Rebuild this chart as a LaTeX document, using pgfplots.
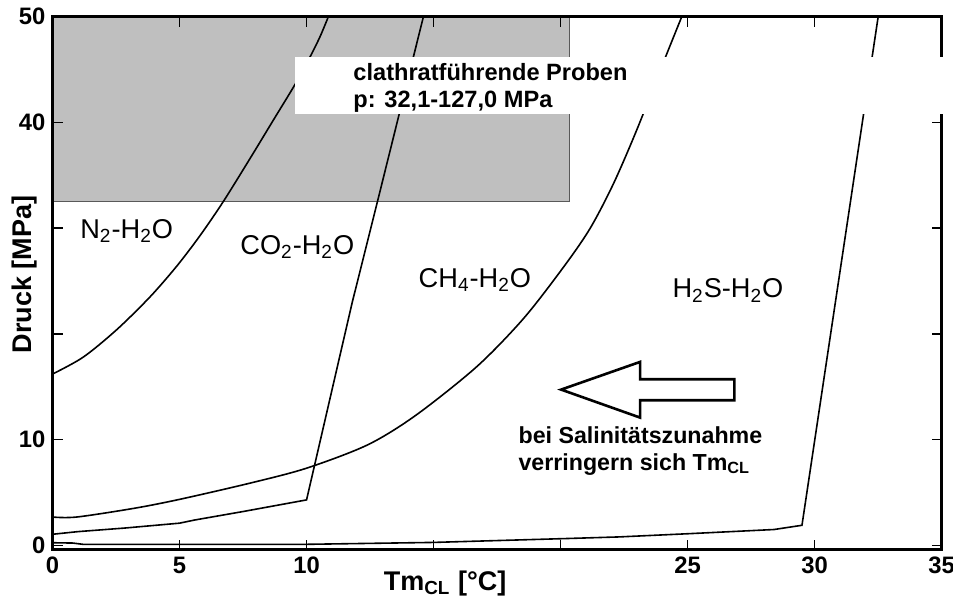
\documentclass[border=0pt]{standalone}
\usepackage{fontspec}
\setmainfont{Liberation Sans}
\usepackage{pgfplots}
\pgfplotsset{compat=1.18}
\begin{document}
\begin{tikzpicture}
\useasboundingbox (-26.25pt,-23.25pt) rectangle (450.25pt,274.8pt);
\begin{axis}[
  scale only axis,
  width=444.6pt, height=266.5pt,
  at={(0,0)}, anchor=south west,
  xmin=0, xmax=35, ymin=-0.4, ymax=50,
  xtick={0,5,...,35}, xticklabels={0,5,10,,,25,30,35},
  ytick={0,10,...,50}, yticklabels={0,10,,,40,50},
  /pgf/number format/assume math mode=true,
  axis on top,
  clip=false,
  axis line style={line width=1.6pt},
  major tick length=5pt,
  every tick/.style={black, line width=0.8pt},
  tick label style={font=\bfseries\fontsize{11.9}{13}\selectfont},
  xlabel={\textbf{Tm\textsubscript{CL} [°C]}},
  ylabel={\textbf{Druck [MPa]}},
  every axis x label/.style={at={(axis description cs:0.4415,-0.063)}, anchor=center, font=\fontsize{13.5}{15}\selectfont},
  every axis y label/.style={at={(axis description cs:-0.031,0.516)}, anchor=center, rotate=90, font=\fontsize{13.5}{15}\selectfont},
]
% shaded region of clathrate-bearing samples
\addplot[draw=black!65, line width=0.4pt, fill=black!25] coordinates {(0,32.55) (20.33,32.55) (20.33,50) (0,50)} -- cycle;

% N2-H2O
\addplot[black, line width=0.8pt, smooth] coordinates {
(0,16.2) (1.21,17.8) (2.53,20.4) (3.84,23.5) (4.89,26.4) (5.81,29.3) (6.72,32.5) (7.78,36.6) (8.69,40.2) (9.55,43.6) (10.14,46.2) (10.53,48.1) (10.86,50)};
% CO2-H2O
\addplot[black, line width=0.8pt, sharp plot] coordinates {
(0,1.05) (1,1.3) (2.85,1.64) (5,2.1) (5.6,2.4) (7.5,3.2) (10,4.3) (11.8,23) (12.8,32.6) (14.6,50)};
% CH4-H2O
\addplot[black, line width=0.8pt, smooth] coordinates {
(0,2.68) (0.95,2.68) (3.2,3.5) (5.0,4.35) (7.8,5.9) (10,7.3) (12.4,9.5) (14.3,12.3) (16.7,16.9) (18.54,21.45) (20.11,26.3) (21.16,29.97) (22.08,34.2) (23.0,39.3) (24.1,46.0) (24.77,50)};
% H2S-H2O
\addplot[black, line width=0.8pt, sharp plot] coordinates {
(0,0.25) (0.8,0.22) (1.2,0.1) (6,0.1) (10,0.1) (15,0.28) (20,0.63) (22.3,0.8) (25,1.1) (28.4,1.5) (29.5,1.9) (32.5,50)};

% arrow
\draw[black, line width=1.3pt, line join=miter] (axis cs:26.84,15.71) -- (axis cs:23.13,15.71) -- (axis cs:23.13,17.35) -- (axis cs:20.02,14.73) -- (axis cs:23.13,12.08) -- (axis cs:23.13,13.72) -- (axis cs:26.84,13.72) -- cycle;

% curve labels
\node[anchor=base west, inner sep=0pt, font=\fontsize{13.6}{15}\selectfont] at (axis cs:1.08,29.05) {N\textsubscript{2}-H\textsubscript{2}O};
\node[anchor=base west, inner sep=0pt, font=\fontsize{13.6}{15}\selectfont] at (axis cs:7.38,27.5) {CO\textsubscript{2}-H\textsubscript{2}O};
\node[anchor=base west, inner sep=0pt, font=\fontsize{13.6}{15}\selectfont] at (axis cs:14.4,24.4) {CH\textsubscript{4}-H\textsubscript{2}O};
\node[anchor=base west, inner sep=0pt, font=\fontsize{13.6}{15}\selectfont] at (axis cs:24.39,23.4) {H\textsubscript{2}S-H\textsubscript{2}O};

% salinity text
\node[anchor=base west, inner sep=0pt, font=\bfseries\fontsize{11.6}{13}\selectfont] at (axis cs:18.33,9.62) {bei Salinitätszunahme};
\node[anchor=base west, inner sep=0pt, font=\bfseries\fontsize{11.6}{13}\selectfont] at (axis cs:18.33,7.1) {verringern sich Tm\textsubscript{CL}};

\coordinate (wbA) at (axis cs:9.55,46.2);
\coordinate (wbB) at (axis cs:40,40.8);
\coordinate (tA) at (axis cs:11.83,44.0);
\coordinate (tB) at (axis cs:11.83,41.4);
\end{axis}
\fill[white] (wbA) rectangle (wbB);
\node[anchor=base west, inner sep=0pt, font=\bfseries\fontsize{11.8}{13}\selectfont] at (tA) {clathratführende Proben};
\node[anchor=base west, inner sep=0pt, font=\bfseries\fontsize{11.8}{13}\selectfont] at (tB) {p: 32,1-127,0 MPa};
\end{tikzpicture}
\end{document}
